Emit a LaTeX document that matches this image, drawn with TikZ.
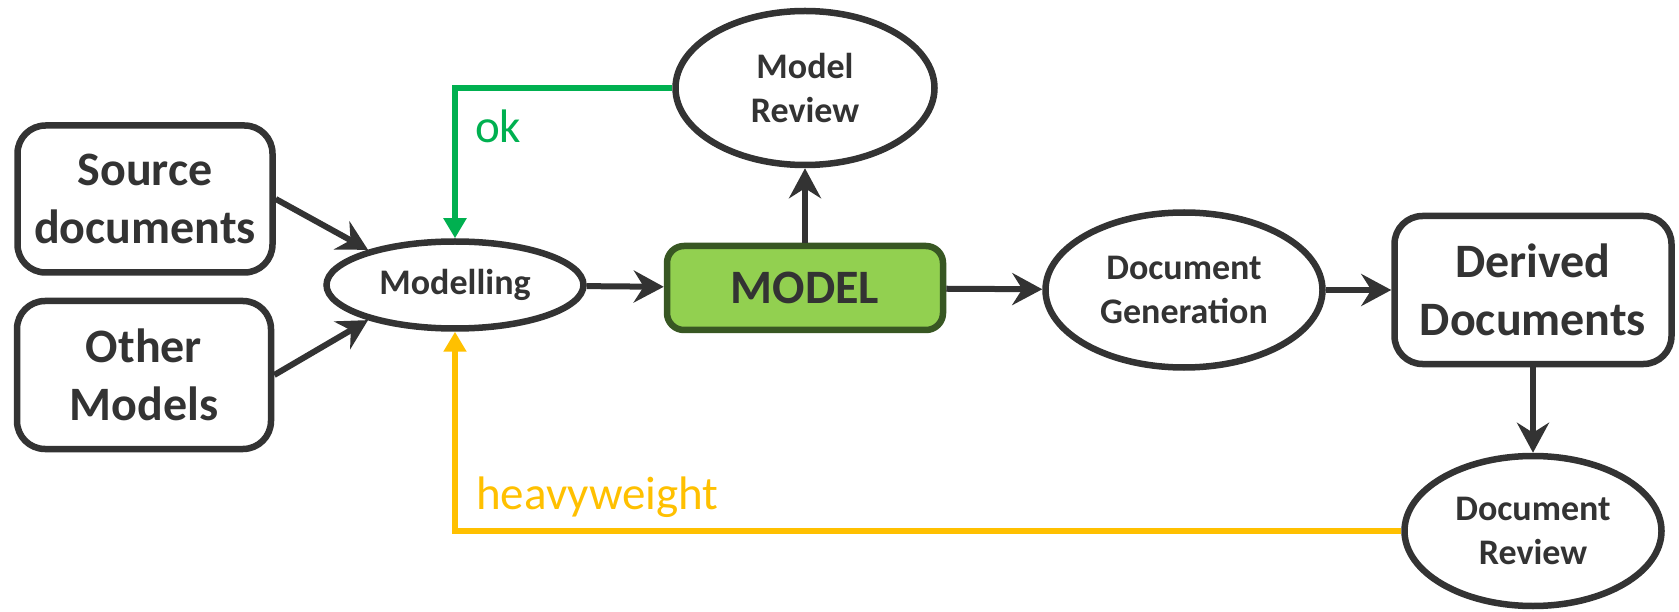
\documentclass[tikz,border=0pt]{standalone}
\usepackage{fontspec}
\setmainfont{Carlito}
\usetikzlibrary{shapes.geometric,arrows.meta}
\definecolor{ink}{HTML}{333333}
\definecolor{okgreen}{HTML}{00B050}
\definecolor{hwyellow}{HTML}{FFC000}
\definecolor{modelfill}{HTML}{92D050}
\definecolor{modeldraw}{HTML}{385723}
\begin{document}
\begin{tikzpicture}[x=1pt,y=-1pt,
  box/.style={draw=ink,line width=6.5pt,rounded corners=28pt,inner sep=0pt,align=center,text=ink,font=\bfseries\fontsize{48}{58}\selectfont},
  oval/.style={ellipse,draw=ink,line width=6.5pt,inner sep=0pt,align=center,text=ink,font=\bfseries\fontsize{36}{44}\selectfont},
  flow/.style={draw=ink,line width=6pt,-{Stealth[length=30pt,width=32pt,inset=10pt]}},
  loopback/.style={line width=6pt,line join=miter,-{Triangle[length=20pt,width=22pt]}},
  lbl/.style={inner sep=0pt,anchor=base west,font=\fontsize{47}{56}\selectfont}]
\useasboundingbox (0,0) rectangle (1679,612);
\node[box,minimum width=255pt,minimum height=147pt] (src) at (145,199) {Source\\documents};
\node[box,minimum width=254pt,minimum height=148pt] (oth) at (144,375) {Other\\Models};
\node[oval,minimum width=257pt,minimum height=87pt] (mod) at (455,285) {Modelling};
\node[oval,minimum width=259pt,minimum height=154pt] (mr) at (805,88) {Model\\Review};
\node[draw=modeldraw,fill=modelfill,line width=6.5pt,rounded corners=17pt,inner sep=0pt,minimum width=276pt,minimum height=84pt,text=ink,font=\bfseries\fontsize{48}{58}\selectfont] (model) at (805,288) {MODEL};
\node[oval,minimum width=277pt,minimum height=155pt] (dg) at (1184,290) {Document\\Generation};
\node[box,minimum width=277pt,minimum height=148pt] (der) at (1533,290) {Derived\\Documents};
\node[oval,minimum width=257pt,minimum height=150pt] (drv) at (1533,531) {Document\\Review};
\draw[flow] (src.east) -- (mod.158);
\draw[flow] (oth.east) -- (mod.202);
\draw[flow] (mod) -- (model);
\draw[flow] (model.north) -- (mr.south);
\draw[flow] (model) -- (dg);
\draw[flow] (dg) -- (der);
\draw[flow] (der.south) -- (drv.north);
\draw[loopback,draw=okgreen,-{Triangle[length=20pt,width=22pt,fill=okgreen]}] (mr.west) -| (mod.north);
\draw[loopback,draw=hwyellow,-{Triangle[length=20pt,width=22pt,fill=hwyellow]}] (drv.west) -| (mod.south);
\node[lbl,text=okgreen] (ok) at (475,143) {ok};
\node[lbl,text=hwyellow] (hw) at (476,509) {heavyweight};
\end{tikzpicture}
\end{document}
